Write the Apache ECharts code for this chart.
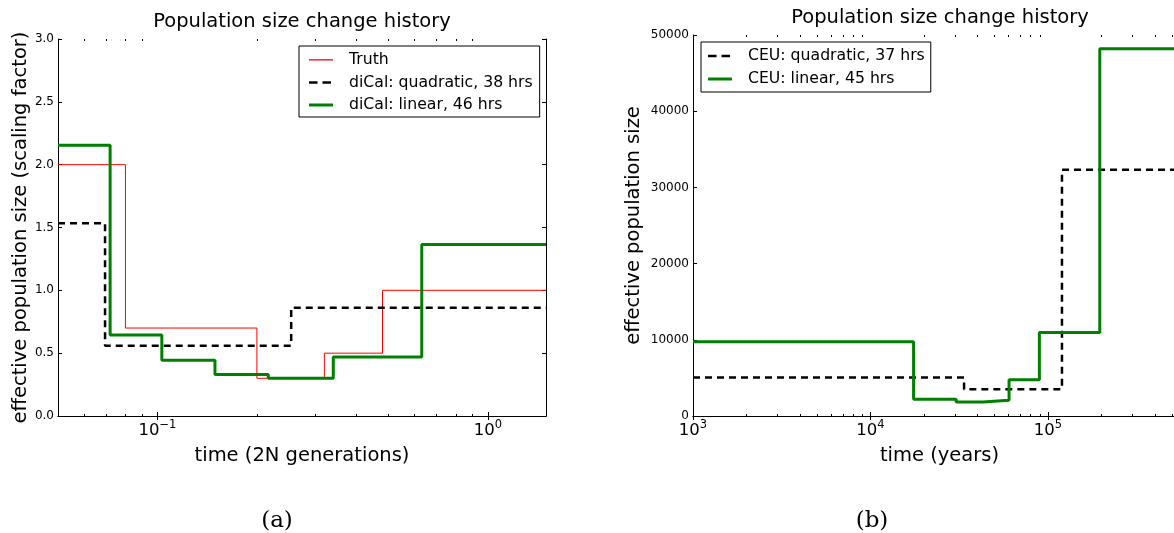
<!DOCTYPE html>
<html>
<head>
<meta charset="utf-8">
<script src="https://cdn.jsdelivr.net/npm/echarts@6/dist/echarts.min.js"></script>
<style>
  html, body { margin: 0; padding: 0; background: #fff; }
  #main { width: 1174px; height: 533px; }
</style>
</head>
<body>
<div id="main"></div>
<script>
// (a) simulated history: time in 2N generations, size as scaling factor.
// Each level holds from its own time until the next time.
const simTruthT = [0.05, 0.08, 0.2, 0.32, 0.48, 1.5];
const simTruthN = [2.0, 0.7, 0.3, 0.5, 1.0, 1.0];
const simQuadT  = [0.05, 0.0694, 0.254, 1.5];
const simQuadN  = [1.533, 0.56, 0.862, 0.862];
const simLinT   = [0.05, 0.0719, 0.1031, 0.1493, 0.2165, 0.3406, 0.631, 1.5];
const simLinN   = [2.155, 0.645, 0.443, 0.33, 0.30, 0.47, 1.365, 1.365];

// (b) CEU history: time in years, effective population size.
const ceuQuadT = [1000, 33700, 120000, 600000];
const ceuQuadN = [5050, 3520, 32300, 32300];
const ceuLinT  = [1000, 17500, 30400, 43000, 60400, 89500, 196000, 600000];
const ceuLinN  = [9750, 2200, 1850, 2070, 4750, 10970, 48200, 48200];

// Tick positions and labels (label = base and exponent)
const simMajorTicks = [0.1, 1];
const simTickExps = ['−1', '0'];
const simMinorTicks = [0.06, 0.07, 0.08, 0.09, 0.2, 0.3, 0.4, 0.5, 0.6, 0.7, 0.8, 0.9];
const simYTicks = [0, 0.5, 1.0, 1.5, 2.0, 2.5, 3.0];

const ceuMajorTicks = [1000, 10000, 100000];
const ceuTickExps = ['3', '4', '5'];
const ceuMinorTicks = [2000, 3000, 4000, 5000, 6000, 7000, 8000, 9000,
                       20000, 30000, 40000, 50000, 60000, 70000, 80000, 90000,
                       200000, 300000, 400000, 500000];
const ceuYTicks = [0, 10000, 20000, 30000, 40000, 50000];

const FONT = 'DejaVu Sans';
const BLACK = '#000';
const NAME_SIZE = 19.5;

function zip(xs, ys) { return xs.map((x, i) => [x, ys[i]]); }

function powerLabel(majors, exps) {
  return function (v) {
    const i = majors.findIndex(m => Math.abs(Math.log10(m / v)) < 1e-6);
    return i >= 0 ? '{b|10}{s|' + exps[i] + '}' : '';
  };
}

const axisLineOn = { show: true, lineStyle: { color: BLACK, width: 1 } };

// Major-tick x axes (bottom with labels, top without)
function majorXAxes(gridIndex, min, max, majors, exps, name) {
  const base = {
    type: 'log', logBase: 10, gridIndex, min, max,
    splitLine: { show: false },
    axisLine: axisLineOn,
    axisTick: { show: true, inside: true, length: 4, customValues: majors,
                lineStyle: { color: BLACK, width: 1 } },
    axisLabel: { show: false }
  };
  return [
    Object.assign({}, base, {
      position: 'bottom',
      name, nameLocation: 'middle', nameGap: 30,
      nameTextStyle: { fontFamily: FONT, fontSize: NAME_SIZE, color: BLACK },
      axisLabel: {
        show: true, customValues: majors, formatter: powerLabel(majors, exps),
        color: BLACK, margin: 3,
        rich: {
          b: { fontFamily: FONT, fontSize: 16.5, lineHeight: 20, verticalAlign: 'bottom', color: BLACK },
          s: { fontFamily: FONT, fontSize: 11.5, lineHeight: 12, verticalAlign: 'top', color: BLACK }
        }
      }
    }),
    Object.assign({}, base, { position: 'top' })
  ];
}

// Minor-tick x axes on an overlay grid
function minorXAxes(gridIndex, min, max, minors) {
  const base = {
    type: 'log', logBase: 10, gridIndex, min, max,
    splitLine: { show: false },
    axisLine: { show: false },
    axisLabel: { show: false },
    axisTick: { show: true, inside: true, length: 2, customValues: minors,
                lineStyle: { color: BLACK, width: 1 } }
  };
  return [
    Object.assign({}, base, { position: 'bottom' }),
    Object.assign({}, base, { position: 'top' })
  ];
}

function valueYAxes(gridIndex, ticks, interval, fmt, name, nameGap) {
  const common = {
    type: 'value', gridIndex, min: ticks[0], max: ticks[ticks.length - 1], interval,
    splitLine: { show: false },
    axisLine: axisLineOn,
    axisTick: { show: true, inside: true, length: 4, lineStyle: { color: BLACK, width: 1 } }
  };
  return [
    Object.assign({}, common, {
      position: 'left',
      name, nameLocation: 'middle', nameGap, nameRotate: 90,
      nameTextStyle: { fontFamily: FONT, fontSize: NAME_SIZE, color: BLACK },
      axisLabel: { show: true, formatter: fmt, fontFamily: FONT, fontSize: 12, color: BLACK, margin: 4 }
    }),
    Object.assign({}, common, { position: 'right', axisLabel: { show: false } })
  ];
}

function stepSeries(name, xs, ys, xIdx, yIdx, style) {
  return {
    name, type: 'line', step: 'end', data: zip(xs, ys),
    xAxisIndex: xIdx, yAxisIndex: yIdx,
    symbol: 'none', showSymbol: false, clip: true,
    lineStyle: style, itemStyle: { color: style.color },
    emphasis: { disabled: true }
  };
}

const redThin    = { color: '#ff0000', width: 1 };
const blackDash  = { color: '#000000', width: 2.5, type: [7, 5] };
const greenThick = { color: '#008000', width: 3 };

// Legend swatches drawn as paths inside a fixed 24x14 box
const ICON_THIN  = 'path://M0,0M24,14M0,6.2h24v1.3h-24z';
const ICON_DASH  = 'path://M0,0M24,14M0,5.75h8.5v2.5h-8.5zM13.5,5.75h8.5v2.5h-8.5z';
const ICON_THICK = 'path://M0,0M24,14M0,5.5h24v3h-24z';

function legendEntry(name, icon, style) {
  return { name, icon, itemStyle: { color: style.color, borderColor: style.color, borderWidth: 0, opacity: 1 } };
}

const legendCommon = {
  orient: 'vertical', selectedMode: false,
  itemWidth: 24, itemHeight: 14,
  borderColor: BLACK, borderWidth: 1, backgroundColor: '#fff', borderRadius: 0,
  textStyle: { fontFamily: FONT, fontSize: 15.7, color: BLACK, padding: [0, 0, 0, 11] }
};

const titleStyle = { fontFamily: FONT, fontSize: NAME_SIZE, fontWeight: 'normal', color: BLACK };
const captionStyle = { fontFamily: 'DejaVu Serif', fontSize: 23, fontWeight: 'normal', color: BLACK };

const panelA = { left: 58, top: 39, width: 488, height: 377, outerBoundsMode: 'none', containLabel: false };
const panelB = { left: 693, top: 35, width: 493, height: 381, outerBoundsMode: 'none', containLabel: false };

const option = {
  animation: false,
  backgroundColor: '#fff',
  title: [
    { text: 'Population size change history', left: 302, top: 12, textAlign: 'center', padding: 0, textStyle: titleStyle },
    { text: 'Population size change history', left: 940, top: 8, textAlign: 'center', padding: 0, textStyle: titleStyle },
    { text: '(a)', left: 277, top: 510, textAlign: 'center', padding: 0, textStyle: captionStyle },
    { text: '(b)', left: 872, top: 510, textAlign: 'center', padding: 0, textStyle: captionStyle }
  ],
  grid: [panelA, panelB, Object.assign({}, panelA), Object.assign({}, panelB)],
  xAxis: [].concat(
    majorXAxes(0, 0.05, 1.5, simMajorTicks, simTickExps, 'time (2N generations)'),
    majorXAxes(1, 1000, 600000, ceuMajorTicks, ceuTickExps, 'time (years)'),
    minorXAxes(2, 0.05, 1.5, simMinorTicks),
    minorXAxes(3, 1000, 600000, ceuMinorTicks)
  ),
  yAxis: [].concat(
    valueYAxes(0, simYTicks, 0.5, v => v.toFixed(1), 'effective population size (scaling factor)', 27),
    valueYAxes(1, ceuYTicks, 10000, v => String(v), 'effective population size', 49),
    [{ type: 'value', gridIndex: 2, min: 0, max: 1, show: false },
     { type: 'value', gridIndex: 3, min: 0, max: 1, show: false }]
  ),
  legend: [
    Object.assign({}, legendCommon, {
      data: [
        legendEntry('Truth', ICON_THIN, redThin),
        legendEntry('diCal: quadratic, 38 hrs', ICON_DASH, blackDash),
        legendEntry('diCal: linear, 46 hrs', ICON_THICK, greenThick)
      ],
      left: 299, top: 46, itemGap: 6.5, padding: [6, 7, 4, 10]
    }),
    Object.assign({}, legendCommon, {
      data: [
        legendEntry('CEU: quadratic, 37 hrs', ICON_DASH, blackDash),
        legendEntry('CEU: linear, 45 hrs', ICON_THICK, greenThick)
      ],
      left: 701, top: 42, itemGap: 7, padding: [6, 6, 5, 7]
    })
  ],
  series: [
    stepSeries('Truth', simTruthT, simTruthN, 0, 0, redThin),
    stepSeries('diCal: quadratic, 38 hrs', simQuadT, simQuadN, 0, 0, blackDash),
    stepSeries('diCal: linear, 46 hrs', simLinT, simLinN, 0, 0, greenThick),
    stepSeries('CEU: quadratic, 37 hrs', ceuQuadT, ceuQuadN, 2, 2, blackDash),
    stepSeries('CEU: linear, 45 hrs', ceuLinT, ceuLinN, 2, 2, greenThick)
  ]
};

const chart = echarts.init(document.getElementById('main'), null, { renderer: 'canvas' });
chart.setOption(option);
</script>
</body>
</html>
